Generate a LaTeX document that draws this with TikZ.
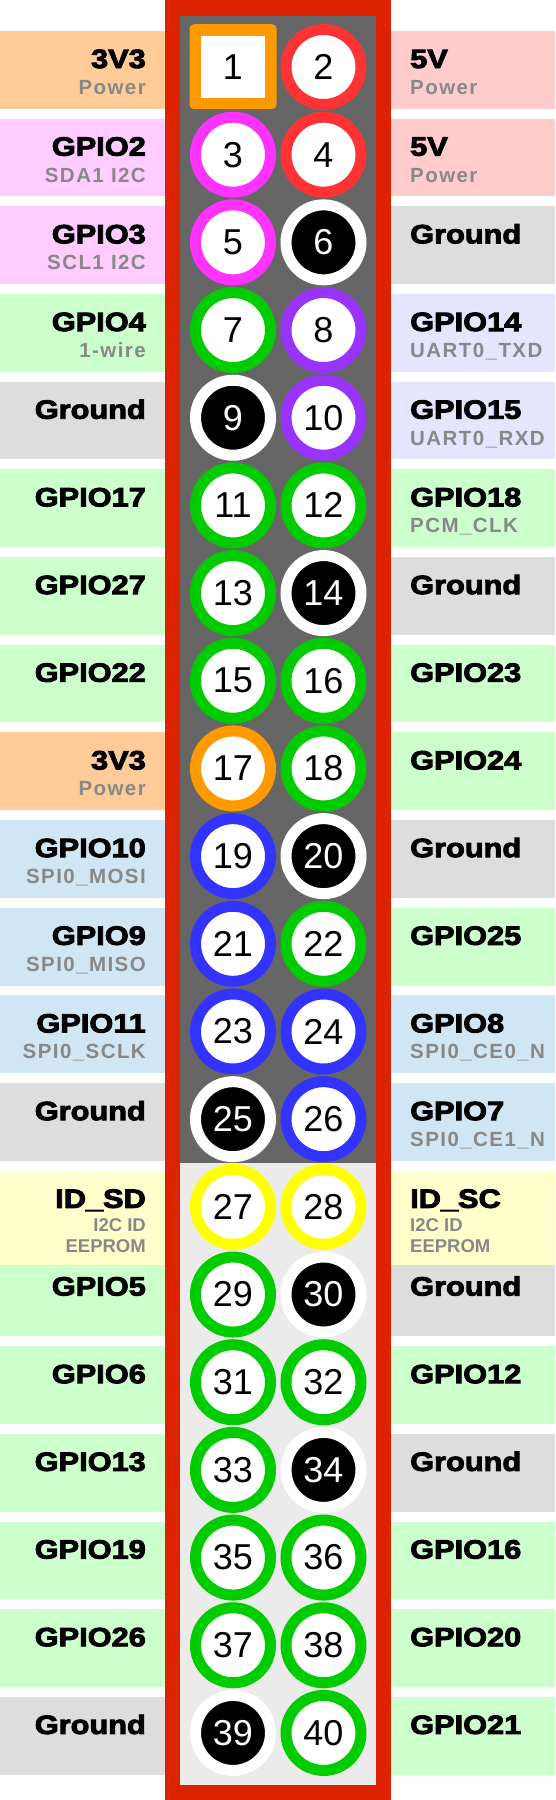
\documentclass[tikz,border=0pt]{standalone}
\usepackage{fontspec}
\setmainfont{Liberation Sans}
\newfontfamily\labfont{Liberation Sans Bold}[FakeBold=3.5,FakeStretch=1.16]
\newfontfamily\subfont{Liberation Sans Bold}[LetterSpace=7]
\newfontfamily\idfont{Liberation Sans Bold}
\newfontfamily\numfont{Liberation Sans}
\definecolor{frame}{HTML}{DD2200}
\definecolor{darkin}{HTML}{666666}
\definecolor{lightin}{HTML}{EBEBEB}
\definecolor{bPowA}{HTML}{FFCC99}
\definecolor{bPowB}{HTML}{FFCCCC}
\definecolor{bIIC}{HTML}{FFCCFF}
\definecolor{bGPIO}{HTML}{CCFFCC}
\definecolor{bGnd}{HTML}{DDDDDD}
\definecolor{bUART}{HTML}{E5E5FF}
\definecolor{bSPI}{HTML}{D0E6F5}
\definecolor{bID}{HTML}{FFFFCC}
\definecolor{cOrange}{HTML}{FF9900}
\definecolor{cRed}{HTML}{FF3333}
\definecolor{cMag}{HTML}{FF33FF}
\definecolor{cGreen}{HTML}{00CC00}
\definecolor{cPurple}{HTML}{9933FF}
\definecolor{cBlue}{HTML}{3333FF}
\definecolor{cYellow}{HTML}{FFFF00}
\definecolor{subgray}{HTML}{888888}
\tikzset{
  labL/.style={anchor=base east, inner sep=0pt, text=black, font={\labfont\fontsize{26.5}{26.5}\selectfont}},
  labR/.style={anchor=base west, inner sep=0pt, text=black, font={\labfont\fontsize{26.5}{26.5}\selectfont}},
  subL/.style={anchor=base east, inner sep=0pt, text=subgray, font={\subfont\fontsize{20.5}{20.5}\selectfont}},
  subR/.style={anchor=base west, inner sep=0pt, text=subgray, font={\subfont\fontsize{20.5}{20.5}\selectfont}},
  idsubL/.style={anchor=base east, inner sep=0pt, text=subgray, font={\idfont\fontsize{18.5}{18.5}\selectfont}},
  idsubR/.style={anchor=base west, inner sep=0pt, text=subgray, font={\idfont\fontsize{18.5}{18.5}\selectfont}},
  ringpin/.style={circle, minimum size=75pt, inner sep=0pt, fill=white, draw=#1, line width=11pt, text=black, font={\numfont\fontsize{36}{36}\selectfont}},
  gndpin/.style={circle, minimum size=75pt, inner sep=0pt, fill=black, draw=white, line width=11pt, text=white, font={\numfont\fontsize{36}{36}\selectfont}},
  sqpin/.style={rectangle, minimum width=64pt, minimum height=62pt, inner sep=0pt, fill=white, text=black, font={\numfont\fontsize{36}{36}\selectfont}}
}
\newcommand\PinRow[9]{%
  \pgfmathsetmacro\bt{31+87.68*#1}%
  \pgfmathsetmacro\bb{\bt+77.7}%
  \pgfmathsetmacro\pc{67+87.68*#1}%
  \pgfmathsetmacro\ma{\bt+37}%
  \pgfmathsetmacro\sa{\bt+63.5}%
  \pgfmathtruncatemacro\pa{2*#1+1}%
  \pgfmathtruncatemacro\pb{2*#1+2}%
  \fill[#2] (0,\bt) rectangle (165,\bb);
  \fill[#5] (391,\bt) rectangle (555,\bb);
  \node[labL] (lm\pa) at (146,\ma) {#3};
  \def\tmpsub{#4}\ifx\tmpsub\empty\else\node[subL] (ls\pa) at (146,\sa) {#4};\fi
  \node[labR] (rm\pb) at (410,\ma) {#6};
  \def\tmpsub{#7}\ifx\tmpsub\empty\else\node[subR] (rs\pb) at (410,\sa) {#7};\fi
  \node[#8] (p\pa) at (233,\pc) {\pa};
  \node[#9] (p\pb) at (323.5,\pc) {\pb};
}
\begin{document}
\begin{tikzpicture}[x=1pt,y=-1pt]
\useasboundingbox (0,0) rectangle (555,1800);
\fill[white] (0,0) rectangle (555,1800);
% header frame
\fill[frame] (165,0) rectangle (391,1800);
\fill[darkin] (180,15.7) rectangle (376,1163);
\fill[lightin] (180,1163) rectangle (376,1785);
\fill[cOrange, rounded corners=4.5pt] (189.5,24.2) rectangle (276.5,109.2);
% rows
\PinRow{0}{bPowA}{3V3}{Power}{bPowB}{5V}{Power}{sqpin}{ringpin=cRed}
\PinRow{1}{bIIC}{GPIO2}{SDA1 I2C}{bPowB}{5V}{Power}{ringpin=cMag}{ringpin=cRed}
\PinRow{2}{bIIC}{GPIO3}{SCL1 I2C}{bGnd}{Ground}{}{ringpin=cMag}{gndpin}
\PinRow{3}{bGPIO}{GPIO4}{1-wire}{bUART}{GPIO14}{UART0\_TXD}{ringpin=cGreen}{ringpin=cPurple}
\PinRow{4}{bGnd}{Ground}{}{bUART}{GPIO15}{UART0\_RXD}{gndpin}{ringpin=cPurple}
\PinRow{5}{bGPIO}{GPIO17}{}{bGPIO}{GPIO18}{PCM\_CLK}{ringpin=cGreen}{ringpin=cGreen}
\PinRow{6}{bGPIO}{GPIO27}{}{bGnd}{Ground}{}{ringpin=cGreen}{gndpin}
\PinRow{7}{bGPIO}{GPIO22}{}{bGPIO}{GPIO23}{}{ringpin=cGreen}{ringpin=cGreen}
\PinRow{8}{bPowA}{3V3}{Power}{bGPIO}{GPIO24}{}{ringpin=cOrange}{ringpin=cGreen}
\PinRow{9}{bSPI}{GPIO10}{SPI0\_MOSI}{bGnd}{Ground}{}{ringpin=cBlue}{gndpin}
\PinRow{10}{bSPI}{GPIO9}{SPI0\_MISO}{bGPIO}{GPIO25}{}{ringpin=cBlue}{ringpin=cGreen}
\PinRow{11}{bSPI}{GPIO11}{SPI0\_SCLK}{bSPI}{GPIO8}{SPI0\_CE0\_N}{ringpin=cBlue}{ringpin=cBlue}
\PinRow{12}{bGnd}{Ground}{}{bSPI}{GPIO7}{SPI0\_CE1\_N}{gndpin}{ringpin=cBlue}
\PinRow{14}{bGPIO}{GPIO5}{}{bGnd}{Ground}{}{ringpin=cGreen}{gndpin}
\PinRow{15}{bGPIO}{GPIO6}{}{bGPIO}{GPIO12}{}{ringpin=cGreen}{ringpin=cGreen}
\PinRow{16}{bGPIO}{GPIO13}{}{bGnd}{Ground}{}{ringpin=cGreen}{gndpin}
\PinRow{17}{bGPIO}{GPIO19}{}{bGPIO}{GPIO16}{}{ringpin=cGreen}{ringpin=cGreen}
\PinRow{18}{bGPIO}{GPIO26}{}{bGPIO}{GPIO20}{}{ringpin=cGreen}{ringpin=cGreen}
\PinRow{19}{bGnd}{Ground}{}{bGPIO}{GPIO21}{}{gndpin}{ringpin=cGreen}
% ID EEPROM row (taller band)
\fill[bID] (0,1170.8) rectangle (165,1265);
\fill[bID] (391,1170.8) rectangle (555,1265);
\node[labL] (lm27) at (146,1207.8) {ID\_SD};
\node[idsubL] (ls27a) at (146,1231.8) {I2C ID};
\node[idsubL] (ls27b) at (146,1252.8) {EEPROM};
\node[labR] (rm28) at (410,1207.8) {ID\_SC};
\node[idsubR] (rs28a) at (410,1231.8) {I2C ID};
\node[idsubR] (rs28b) at (410,1252.8) {EEPROM};
\node[ringpin=cYellow] (p27) at (233,1206.8) {27};
\node[ringpin=cYellow] (p28) at (323.5,1206.8) {28};
\end{tikzpicture}
\end{document}
